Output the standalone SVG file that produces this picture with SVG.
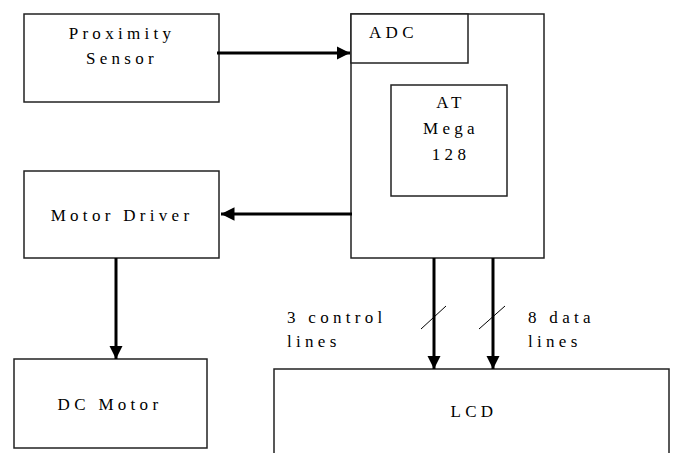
<svg xmlns="http://www.w3.org/2000/svg" width="673" height="453" viewBox="0 0 673 453">
<defs>
<marker id="ah" viewBox="0 0 10 10" refX="10" refY="5" markerWidth="4.5" markerHeight="4.5" markerUnits="strokeWidth" orient="auto">
<path d="M0,0 L10,5 L0,10 z" fill="#000"/>
</marker>
<style>
.box{fill:#fff;stroke:#222;stroke-width:1.5}
text{font-family:'Liberation Serif','Times New Roman',serif;font-size:17px;letter-spacing:4.3px;fill:#000}
.t{text-anchor:middle}
.c{stroke:#000;stroke-width:3;fill:none}
.s{stroke:#000;stroke-width:1;fill:none}
</style>
</defs>
<rect width="673" height="453" fill="#fff"/>
<g id="proximity">
<rect class="box" x="24" y="14" width="195" height="88"/>
<text class="t" x="122" y="39">Proximity</text>
<text class="t" x="122" y="64">Sensor</text>
</g>
<g id="mcu">
<rect class="box" x="351" y="14" width="193" height="244"/>
<rect class="box" x="351" y="14" width="117" height="49"/>
<text x="369" y="38">ADC</text>
<rect class="box" x="391" y="85" width="116" height="111"/>
<text class="t" x="451" y="108">AT</text>
<text class="t" x="451" y="134">Mega</text>
<text class="t" x="451" y="160">128</text>
</g>
<g id="motordriver">
<rect class="box" x="24" y="171" width="195" height="87"/>
<text class="t" x="122" y="221">Motor Driver</text>
</g>
<g id="dcmotor">
<rect class="box" x="14" y="359" width="193" height="89"/>
<text class="t" x="110" y="410">DC Motor</text>
</g>
<g id="lcd">
<rect class="box" x="274" y="369" width="395" height="90"/>
<text class="t" x="474" y="417">LCD</text>
</g>
<g id="connectors">
<line class="c" x1="217" y1="53" x2="350" y2="53" marker-end="url(#ah)"/>
<line class="c" x1="352" y1="214" x2="221" y2="214" marker-end="url(#ah)"/>
<line class="c" x1="116" y1="258" x2="116" y2="359" marker-end="url(#ah)"/>
<line class="c" x1="434" y1="258" x2="434" y2="369" marker-end="url(#ah)"/>
<line class="c" x1="493" y1="258" x2="493" y2="369" stroke-width="3.5" marker-end="url(#ah)"/>
<line class="s" x1="421" y1="329" x2="446" y2="306"/>
<line class="s" x1="479" y1="329" x2="505" y2="306"/>
</g>
<g id="labels">
<text x="287" y="323">3 control</text>
<text x="287" y="347">lines</text>
<text x="528" y="323">8 data</text>
<text x="528" y="347">lines</text>
</g>
</svg>
